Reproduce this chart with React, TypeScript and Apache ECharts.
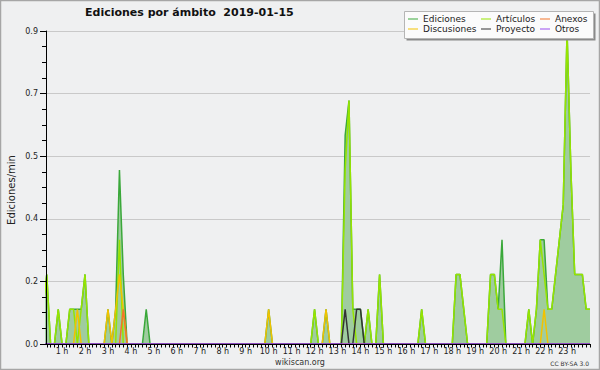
import React, { useEffect, useRef } from "react";
import * as echarts from "echarts";

// 10-minute bins, index k = hour*6 + (minutes/10); values in edits per minute
const ediciones = [
  0, 0.1, 0.2, 0, 0, 0.1, // 0 h
  0, 0, 0.1, 0.1, 0.1, 0.1, // 1 h
  0.2, 0, 0, 0, 0, 0, // 2 h
  0.1, 0, 0.1, 0.5, 0.2, 0, // 3 h
  0, 0, 0, 0, 0.1, 0, // 4 h
  0, 0, 0, 0, 0, 0, // 5 h
  0, 0, 0, 0, 0, 0, // 6 h
  0, 0, 0, 0, 0, 0, // 7 h
  0, 0, 0, 0, 0, 0, // 8 h
  0, 0, 0, 0, 0, 0, // 9 h
  0.1, 0, 0, 0, 0, 0, // 10 h
  0, 0, 0, 0, 0, 0, // 11 h
  0.1, 0, 0, 0.1, 0, 0, // 12 h
  0, 0, 0.6, 0.7, 0.1, 0.1, // 13 h
  0.1, 0, 0.1, 0, 0, 0.2, // 14 h
  0, 0, 0, 0, 0, 0, // 15 h
  0, 0, 0, 0, 0.1, 0, // 16 h
  0, 0, 0, 0, 0, 0, // 17 h
  0, 0.2, 0.2, 0.1, 0, 0, // 18 h
  0, 0, 0, 0, 0.2, 0.2, // 19 h
  0.1, 0.3, 0, 0, 0, 0, // 20 h
  0, 0, 0.1, 0, 0.1, 0.3, // 21 h
  0.3, 0.1, 0.1, 0.2, 0.3, 0.4, // 22 h
  0.9, 0.5, 0.2, 0.2, 0.2, 0.1, // 23 h
  0.1,
];

const articulos = [
  0, 0.1, 0.2, 0, 0, 0.1, // 0 h
  0, 0, 0.1, 0.1, 0, 0.1, // 1 h
  0.2, 0, 0, 0, 0, 0, // 2 h
  0, 0, 0, 0.3, 0, 0, // 3 h
  0, 0, 0, 0, 0, 0, // 4 h
  0, 0, 0, 0, 0, 0, // 5 h
  0, 0, 0, 0, 0, 0, // 6 h
  0, 0, 0, 0, 0, 0, // 7 h
  0, 0, 0, 0, 0, 0, // 8 h
  0, 0, 0, 0, 0, 0, // 9 h
  0, 0, 0, 0, 0, 0, // 10 h
  0, 0, 0, 0, 0, 0, // 11 h
  0.1, 0, 0, 0, 0, 0, // 12 h
  0, 0, 0.5, 0.7, 0.1, 0, // 13 h
  0, 0, 0.1, 0, 0, 0.2, // 14 h
  0, 0, 0, 0, 0, 0, // 15 h
  0, 0, 0, 0, 0.1, 0, // 16 h
  0, 0, 0, 0, 0, 0, // 17 h
  0, 0.2, 0.2, 0.1, 0, 0, // 18 h
  0, 0, 0, 0, 0.2, 0.2, // 19 h
  0.1, 0.1, 0, 0, 0, 0, // 20 h
  0, 0, 0.1, 0, 0.1, 0.3, // 21 h
  0.2, 0.1, 0.1, 0.2, 0.3, 0.4, // 22 h
  0.9, 0.5, 0.2, 0.2, 0.2, 0.1, // 23 h
  0.1,
];

const discusiones = [
  0, 0, 0, 0, 0, 0, // 0 h
  0, 0, 0, 0, 0.1, 0, // 1 h
  0, 0, 0, 0, 0, 0, // 2 h
  0.1, 0, 0.1, 0.2, 0.1, 0, // 3 h
  0, 0, 0, 0, 0, 0, // 4 h
  0, 0, 0, 0, 0, 0, // 5 h
  0, 0, 0, 0, 0, 0, // 6 h
  0, 0, 0, 0, 0, 0, // 7 h
  0, 0, 0, 0, 0, 0, // 8 h
  0, 0, 0, 0, 0, 0, // 9 h
  0.1, 0, 0, 0, 0, 0, // 10 h
  0, 0, 0, 0, 0, 0, // 11 h
  0, 0, 0, 0.1, 0, 0, // 12 h
  0, 0, 0, 0, 0, 0, // 13 h
  0, 0, 0, 0, 0, 0, // 14 h
  0, 0, 0, 0, 0, 0, // 15 h
  0, 0, 0, 0, 0, 0, // 16 h
  0, 0, 0, 0, 0, 0, // 17 h
  0, 0, 0, 0, 0, 0, // 18 h
  0, 0, 0, 0, 0, 0, // 19 h
  0, 0, 0, 0, 0, 0, // 20 h
  0, 0, 0, 0, 0, 0, // 21 h
  0.1, 0, 0, 0, 0, 0, // 22 h
  0, 0, 0, 0, 0, 0, // 23 h
  0,
];

const anexos = [
  0, 0, 0, 0, 0, 0, // 0 h
  0, 0, 0, 0, 0, 0, // 1 h
  0, 0, 0, 0, 0, 0, // 2 h
  0, 0, 0, 0, 0.1, 0, // 3 h
  0, 0, 0, 0, 0, 0, // 4 h
  0, 0, 0, 0, 0, 0, // 5 h
  0, 0, 0, 0, 0, 0, // 6 h
  0, 0, 0, 0, 0, 0, // 7 h
  0, 0, 0, 0, 0, 0, // 8 h
  0, 0, 0, 0, 0, 0, // 9 h
  0, 0, 0, 0, 0, 0, // 10 h
  0, 0, 0, 0, 0, 0, // 11 h
  0, 0, 0, 0, 0, 0, // 12 h
  0, 0, 0, 0, 0, 0, // 13 h
  0, 0, 0, 0, 0, 0, // 14 h
  0, 0, 0, 0, 0, 0, // 15 h
  0, 0, 0, 0, 0, 0, // 16 h
  0, 0, 0, 0, 0, 0, // 17 h
  0, 0, 0, 0, 0, 0, // 18 h
  0, 0, 0, 0, 0, 0, // 19 h
  0, 0, 0, 0, 0, 0, // 20 h
  0, 0, 0, 0, 0, 0, // 21 h
  0, 0, 0, 0, 0, 0, // 22 h
  0, 0, 0, 0, 0, 0, // 23 h
  0,
];

const proyecto = [
  0, 0, 0, 0, 0, 0, // 0 h
  0, 0, 0, 0, 0, 0, // 1 h
  0, 0, 0, 0, 0, 0, // 2 h
  0, 0, 0, 0, 0, 0, // 3 h
  0, 0, 0, 0, 0, 0, // 4 h
  0, 0, 0, 0, 0, 0, // 5 h
  0, 0, 0, 0, 0, 0, // 6 h
  0, 0, 0, 0, 0, 0, // 7 h
  0, 0, 0, 0, 0, 0, // 8 h
  0, 0, 0, 0, 0, 0, // 9 h
  0, 0, 0, 0, 0, 0, // 10 h
  0, 0, 0, 0, 0, 0, // 11 h
  0, 0, 0, 0, 0, 0, // 12 h
  0, 0, 0.1, 0, 0, 0.1, // 13 h
  0.1, 0, 0, 0, 0, 0, // 14 h
  0, 0, 0, 0, 0, 0, // 15 h
  0, 0, 0, 0, 0, 0, // 16 h
  0, 0, 0, 0, 0, 0, // 17 h
  0, 0, 0, 0, 0, 0, // 18 h
  0, 0, 0, 0, 0, 0, // 19 h
  0, 0, 0, 0, 0, 0, // 20 h
  0, 0, 0, 0, 0, 0, // 21 h
  0, 0, 0, 0, 0, 0, // 22 h
  0, 0, 0, 0, 0, 0, // 23 h
  0,
];

const otros = [
  0, 0, 0, 0, 0, 0, 0, 0, 0, 0, 0, 0, 0, 0, 0, 0, 0, 0, 0, 0, 0, 0, 0, 0,
  0, 0, 0, 0, 0, 0, 0, 0, 0, 0, 0, 0, 0, 0, 0, 0, 0, 0, 0, 0, 0, 0, 0, 0,
  0, 0, 0, 0, 0, 0, 0, 0, 0, 0, 0, 0, 0, 0, 0, 0, 0, 0, 0, 0, 0, 0, 0, 0,
  0, 0, 0, 0, 0, 0, 0, 0, 0, 0, 0, 0, 0, 0, 0, 0, 0, 0, 0, 0, 0, 0, 0, 0,
  0, 0, 0, 0, 0, 0, 0, 0, 0, 0, 0, 0, 0, 0, 0, 0, 0, 0, 0, 0, 0, 0, 0, 0,
  0, 0, 0, 0, 0, 0, 0, 0, 0, 0, 0, 0, 0, 0, 0, 0, 0, 0, 0, 0, 0, 0, 0, 0,
  0,
];

const hourLabels = [1, 2, 3, 4, 5, 6, 7, 8, 9, 10, 11, 12, 13, 14, 15, 16, 17, 18, 19, 20, 21, 22, 23];

const FONT = "DejaVu Sans";

const COLORS = {
  ediciones: "#3aa83a",
  edicionesFill: "#9fcc9f",
  articulos: "#96e400",
  discusiones: "#f2c200",
  anexos: "#f2742a",
  proyecto: "#333333",
  otros: "#9b4dee",
};

function toPairs(values: number[]) {
  return values.map((v, i) => [i / 6, v]);
}

export default function App() {
  const ref = useRef<HTMLDivElement>(null);

  useEffect(() => {
    if (!ref.current) return;
    const chart = echarts.init(ref.current, undefined, { renderer: "svg" });

    const tickValues: number[] = [];
    for (let k = 2; k <= 144; k++) tickValues.push(k / 6);

    const lineSeries = (name: string, data: number[], color: string, extra: any = {}) => ({
      name,
      type: "line",
      data: toPairs(data),
      showSymbol: false,
      symbol: "none",
      smooth: false,
      lineStyle: { color, width: 1.5 },
      itemStyle: { color },
      emphasis: { disabled: true },
      ...extra,
    });

    const legendCommon = {
      orient: "vertical",
      top: 14,
      padding: 0,
      itemGap: 0,
      icon: "rect",
      itemWidth: 10,
      itemHeight: 1,
      selectedMode: false,
      z: 20,
      textStyle: { fontSize: 9, fontFamily: FONT, color: "#222", lineHeight: 10 },
    };

    chart.setOption({
      animation: false,
      backgroundColor: "#eff0f1",
      title: {
        text: "Ediciones por ámbito  2019-01-15",
        left: 85,
        top: 7,
        padding: 0,
        textStyle: { fontSize: 11, fontWeight: "bold", fontFamily: FONT, color: "#111" },
      },
      grid: { left: 46, right: 10, top: 31, bottom: 26 },
      xAxis: {
        type: "value",
        min: 0.3,
        max: 24,
        z: 10,
        axisLine: { show: true, lineStyle: { color: "#000", width: 1 } },
        axisTick: { show: true, customValues: tickValues, length: 3.5, lineStyle: { color: "#000" } },
        axisLabel: {
          customValues: hourLabels,
          formatter: (v: number) => `${v} h`,
          fontSize: 8,
          fontFamily: FONT,
          color: "#222",
          margin: 3,
        },
        splitLine: { show: false },
      },
      yAxis: [
        {
          type: "value",
          min: 0,
          max: 0.9,
          interval: 0.18,
          z: 0,
          axisLine: { show: false },
          axisTick: { show: false },
          axisLabel: { show: false },
          splitLine: { show: true, lineStyle: { color: "#c9c9c9", width: 1 } },
        },
        {
          type: "value",
          min: 0,
          max: 0.9,
          interval: 0.18,
          position: "left",
          z: 10,
          axisLine: { show: true, lineStyle: { color: "#000", width: 1 } },
          axisTick: { show: true, length: 6, lineStyle: { color: "#000" } },
          minorTick: { show: true, splitNumber: 4, length: 4, lineStyle: { color: "#000" } },
          axisLabel: {
            formatter: (v: number) => v.toFixed(1),
            fontSize: 8,
            fontFamily: FONT,
            color: "#222",
            margin: 8,
          },
          splitLine: { show: false },
        },
      ],
      legend: [
        { ...legendCommon, left: 408, data: ["Ediciones", "Discusiones"] },
        { ...legendCommon, left: 481, data: ["Artículos", "Proyecto"] },
        { ...legendCommon, left: 540, data: ["Anexos", "Otros"] },
      ],
      series: [
        lineSeries("Ediciones", ediciones, COLORS.ediciones, {
          areaStyle: { color: COLORS.edicionesFill, opacity: 1 },
        }),
        lineSeries("Artículos", articulos, COLORS.articulos),
        lineSeries("Discusiones", discusiones, COLORS.discusiones),
        lineSeries("Anexos", anexos, COLORS.anexos),
        lineSeries("Proyecto", proyecto, COLORS.proyecto),
        lineSeries("Otros", otros, COLORS.otros),
      ],
      graphic: [
        {
          type: "rect",
          silent: true,
          z: 0,
          shape: { x: 0.5, y: 0.5, width: 599, height: 369 },
          style: { fill: "none", stroke: "#a6a6a6", lineWidth: 1.5 },
        },
        {
          type: "text",
          silent: true,
          x: 11,
          y: 190,
          rotation: Math.PI / 2,
          style: {
            text: "Ediciones/min",
            fontSize: 10,
            fontFamily: FONT,
            fill: "#222",
            align: "center",
            verticalAlign: "middle",
          },
        },
        {
          type: "text",
          silent: true,
          x: 300,
          y: 362,
          style: {
            text: "wikiscan.org",
            fontSize: 8,
            fontFamily: FONT,
            fill: "#333",
            align: "center",
            verticalAlign: "middle",
          },
        },
        {
          type: "text",
          silent: true,
          x: 589,
          y: 363,
          style: {
            text: "CC BY-SA 3.0",
            fontSize: 6,
            fontFamily: FONT,
            fill: "#333",
            align: "right",
            verticalAlign: "middle",
          },
        },
        {
          type: "rect",
          silent: true,
          z: 15,
          shape: { x: 406.5, y: 13.5, width: 189, height: 27 },
          style: { fill: "#8a8a8a" },
        },
        {
          type: "rect",
          silent: true,
          z: 16,
          shape: { x: 404.5, y: 11.5, width: 189, height: 27 },
          style: { fill: "#fbfbfb", stroke: "#b5b5b5", lineWidth: 1 },
        },
      ],
    });

    return () => chart.dispose();
  }, []);

  return (
    <div
      ref={ref}
      style={{ position: "absolute", left: 0, top: 0, width: 600, height: 370 }}
    />
  );
}
